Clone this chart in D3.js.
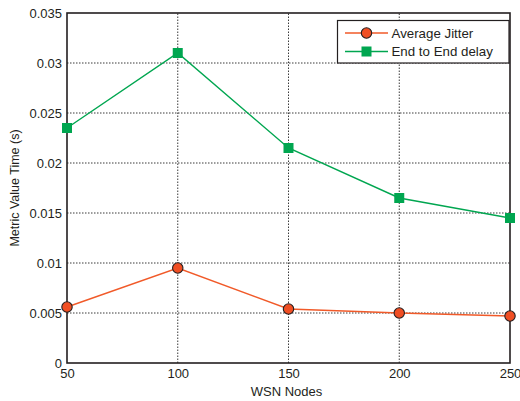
<!DOCTYPE html>
<html>
<head>
<meta charset="utf-8">
<script src="https://cdn.jsdelivr.net/npm/d3@7"></script>
<style>
  html, body { margin: 0; padding: 0; background: #fff; }
  svg { display: block; font-family: "Liberation Sans", Arial, sans-serif; }
</style>
</head>
<body>
<svg id="chart" width="520" height="401"></svg>
<script>
// Network size (x axis)
const nodes = [50, 100, 150, 200, 250];
// Metric values in seconds
const avgJitter = [0.0056, 0.0095, 0.0054, 0.0050, 0.0047];
const endToEndDelay = [0.0235, 0.0310, 0.0215, 0.0165, 0.0145];
// Tick values
const xTicks = [50, 100, 150, 200, 250];
const yTicks = [0, 0.005, 0.01, 0.015, 0.02, 0.025, 0.03, 0.035];
const yTickLabels = ["0", "0.005", "0.01", "0.015", "0.02", "0.025", "0.03", "0.035"];
const seriesNames = ["Average Jitter", "End to End delay"];

const svg = d3.select("#chart");
const margin = { left: 67, top: 13, right: 10, bottom: 38 };
const W = 520, H = 401;
const x = d3.scaleLinear().domain([50, 250]).range([margin.left, W - margin.right]);
const y = d3.scaleLinear().domain([0, 0.035]).range([H - margin.bottom, margin.top]);

const ink = "#231f20";

// Dotted grid
const grid = svg.append("g");
grid.selectAll("line.gx").data(xTicks.slice(1, -1)).join("line")
  .attr("x1", d => x(d)).attr("x2", d => x(d))
  .attr("y1", y(0)).attr("y2", y(0.035))
  .attr("stroke", "#3a3a3a").attr("stroke-width", 1).attr("stroke-dasharray", "1.5,1.5");
grid.selectAll("line.gy").data(yTicks.slice(1, -1)).join("line")
  .attr("x1", x(50)).attr("x2", x(250))
  .attr("y1", d => y(d)).attr("y2", d => y(d))
  .attr("stroke", "#3a3a3a").attr("stroke-width", 1).attr("stroke-dasharray", "1.5,1.5");

// Axes
const xAxis = d3.axisBottom(x).tickValues(xTicks).tickSize(0).tickPadding(6).tickFormat(d3.format("d"));
const yAxis = d3.axisLeft(y).tickValues(yTicks).tickSize(0).tickPadding(5)
  .tickFormat((d, i) => yTickLabels[i]);

const gx = svg.append("g").attr("transform", `translate(0,${y(0)})`).call(xAxis);
const gy = svg.append("g").attr("transform", `translate(${x(50)},0)`).call(yAxis);
[gx, gy].forEach(g => {
  g.select(".domain").remove();
  g.selectAll("text").attr("font-size", 13).attr("fill", ink).attr("font-family", "Liberation Sans, Arial, sans-serif");
});

// Plot frame
svg.append("rect")
  .attr("x", x(50)).attr("y", y(0.035))
  .attr("width", x(250) - x(50)).attr("height", y(0) - y(0.035))
  .attr("fill", "none").attr("stroke", ink).attr("stroke-width", 1.6);

// Axis titles
svg.append("text").attr("x", (x(50) + x(250)) / 2 - 2).attr("y", 396)
  .attr("text-anchor", "middle").attr("font-size", 13).attr("fill", ink).text("WSN Nodes");
svg.append("text")
  .attr("transform", `translate(19,${(y(0) + y(0.035)) / 2}) rotate(-90)`)
  .attr("text-anchor", "middle").attr("font-size", 12.5).attr("fill", ink).text("Metric Value Time (s)");

const line = d3.line().x(d => x(d[0])).y(d => y(d[1]));
const green = "#00a650", red = "#f15a29";

// End to end delay series
const delayPts = nodes.map((n, i) => [n, endToEndDelay[i]]);
svg.append("path").datum(delayPts).attr("d", line)
  .attr("fill", "none").attr("stroke", green).attr("stroke-width", 1.4);
svg.selectAll("rect.delay").data(delayPts).join("rect")
  .attr("x", d => x(d[0]) - 5).attr("y", d => y(d[1]) - 5)
  .attr("width", 10).attr("height", 10).attr("fill", green);

// Average jitter series
const jitterPts = nodes.map((n, i) => [n, avgJitter[i]]);
svg.append("path").datum(jitterPts).attr("d", line)
  .attr("fill", "none").attr("stroke", red).attr("stroke-width", 1.4);
svg.selectAll("circle.jitter").data(jitterPts).join("circle")
  .attr("cx", d => x(d[0])).attr("cy", d => y(d[1])).attr("r", 5.2)
  .attr("fill", "#f04e23").attr("stroke", ink).attr("stroke-width", 1.1);

// Legend
const lg = svg.append("g");
lg.append("rect").attr("x", 337.5).attr("y", 20.5).attr("width", 171.5).attr("height", 42.5)
  .attr("fill", "#fff").attr("stroke", ink).attr("stroke-width", 1.2);
const rows = [
  { name: seriesNames[0], color: red, shape: "circle", yy: 33 },
  { name: seriesNames[1], color: green, shape: "square", yy: 51.5 }
];
rows.forEach(r => {
  lg.append("line").attr("x1", 345).attr("x2", 388).attr("y1", r.yy).attr("y2", r.yy)
    .attr("stroke", r.color).attr("stroke-width", 1.4);
  if (r.shape === "circle") {
    lg.append("circle").attr("cx", 366.5).attr("cy", r.yy).attr("r", 5.2)
      .attr("fill", "#f04e23").attr("stroke", ink).attr("stroke-width", 1.1);
  } else {
    lg.append("rect").attr("x", 361.5).attr("y", r.yy - 5).attr("width", 10).attr("height", 10)
      .attr("fill", green);
  }
  lg.append("text").attr("x", 391.5).attr("y", r.yy).attr("dy", "0.35em")
    .attr("font-size", 13.3).attr("fill", ink).text(r.name);
});
</script>
</body>
</html>
